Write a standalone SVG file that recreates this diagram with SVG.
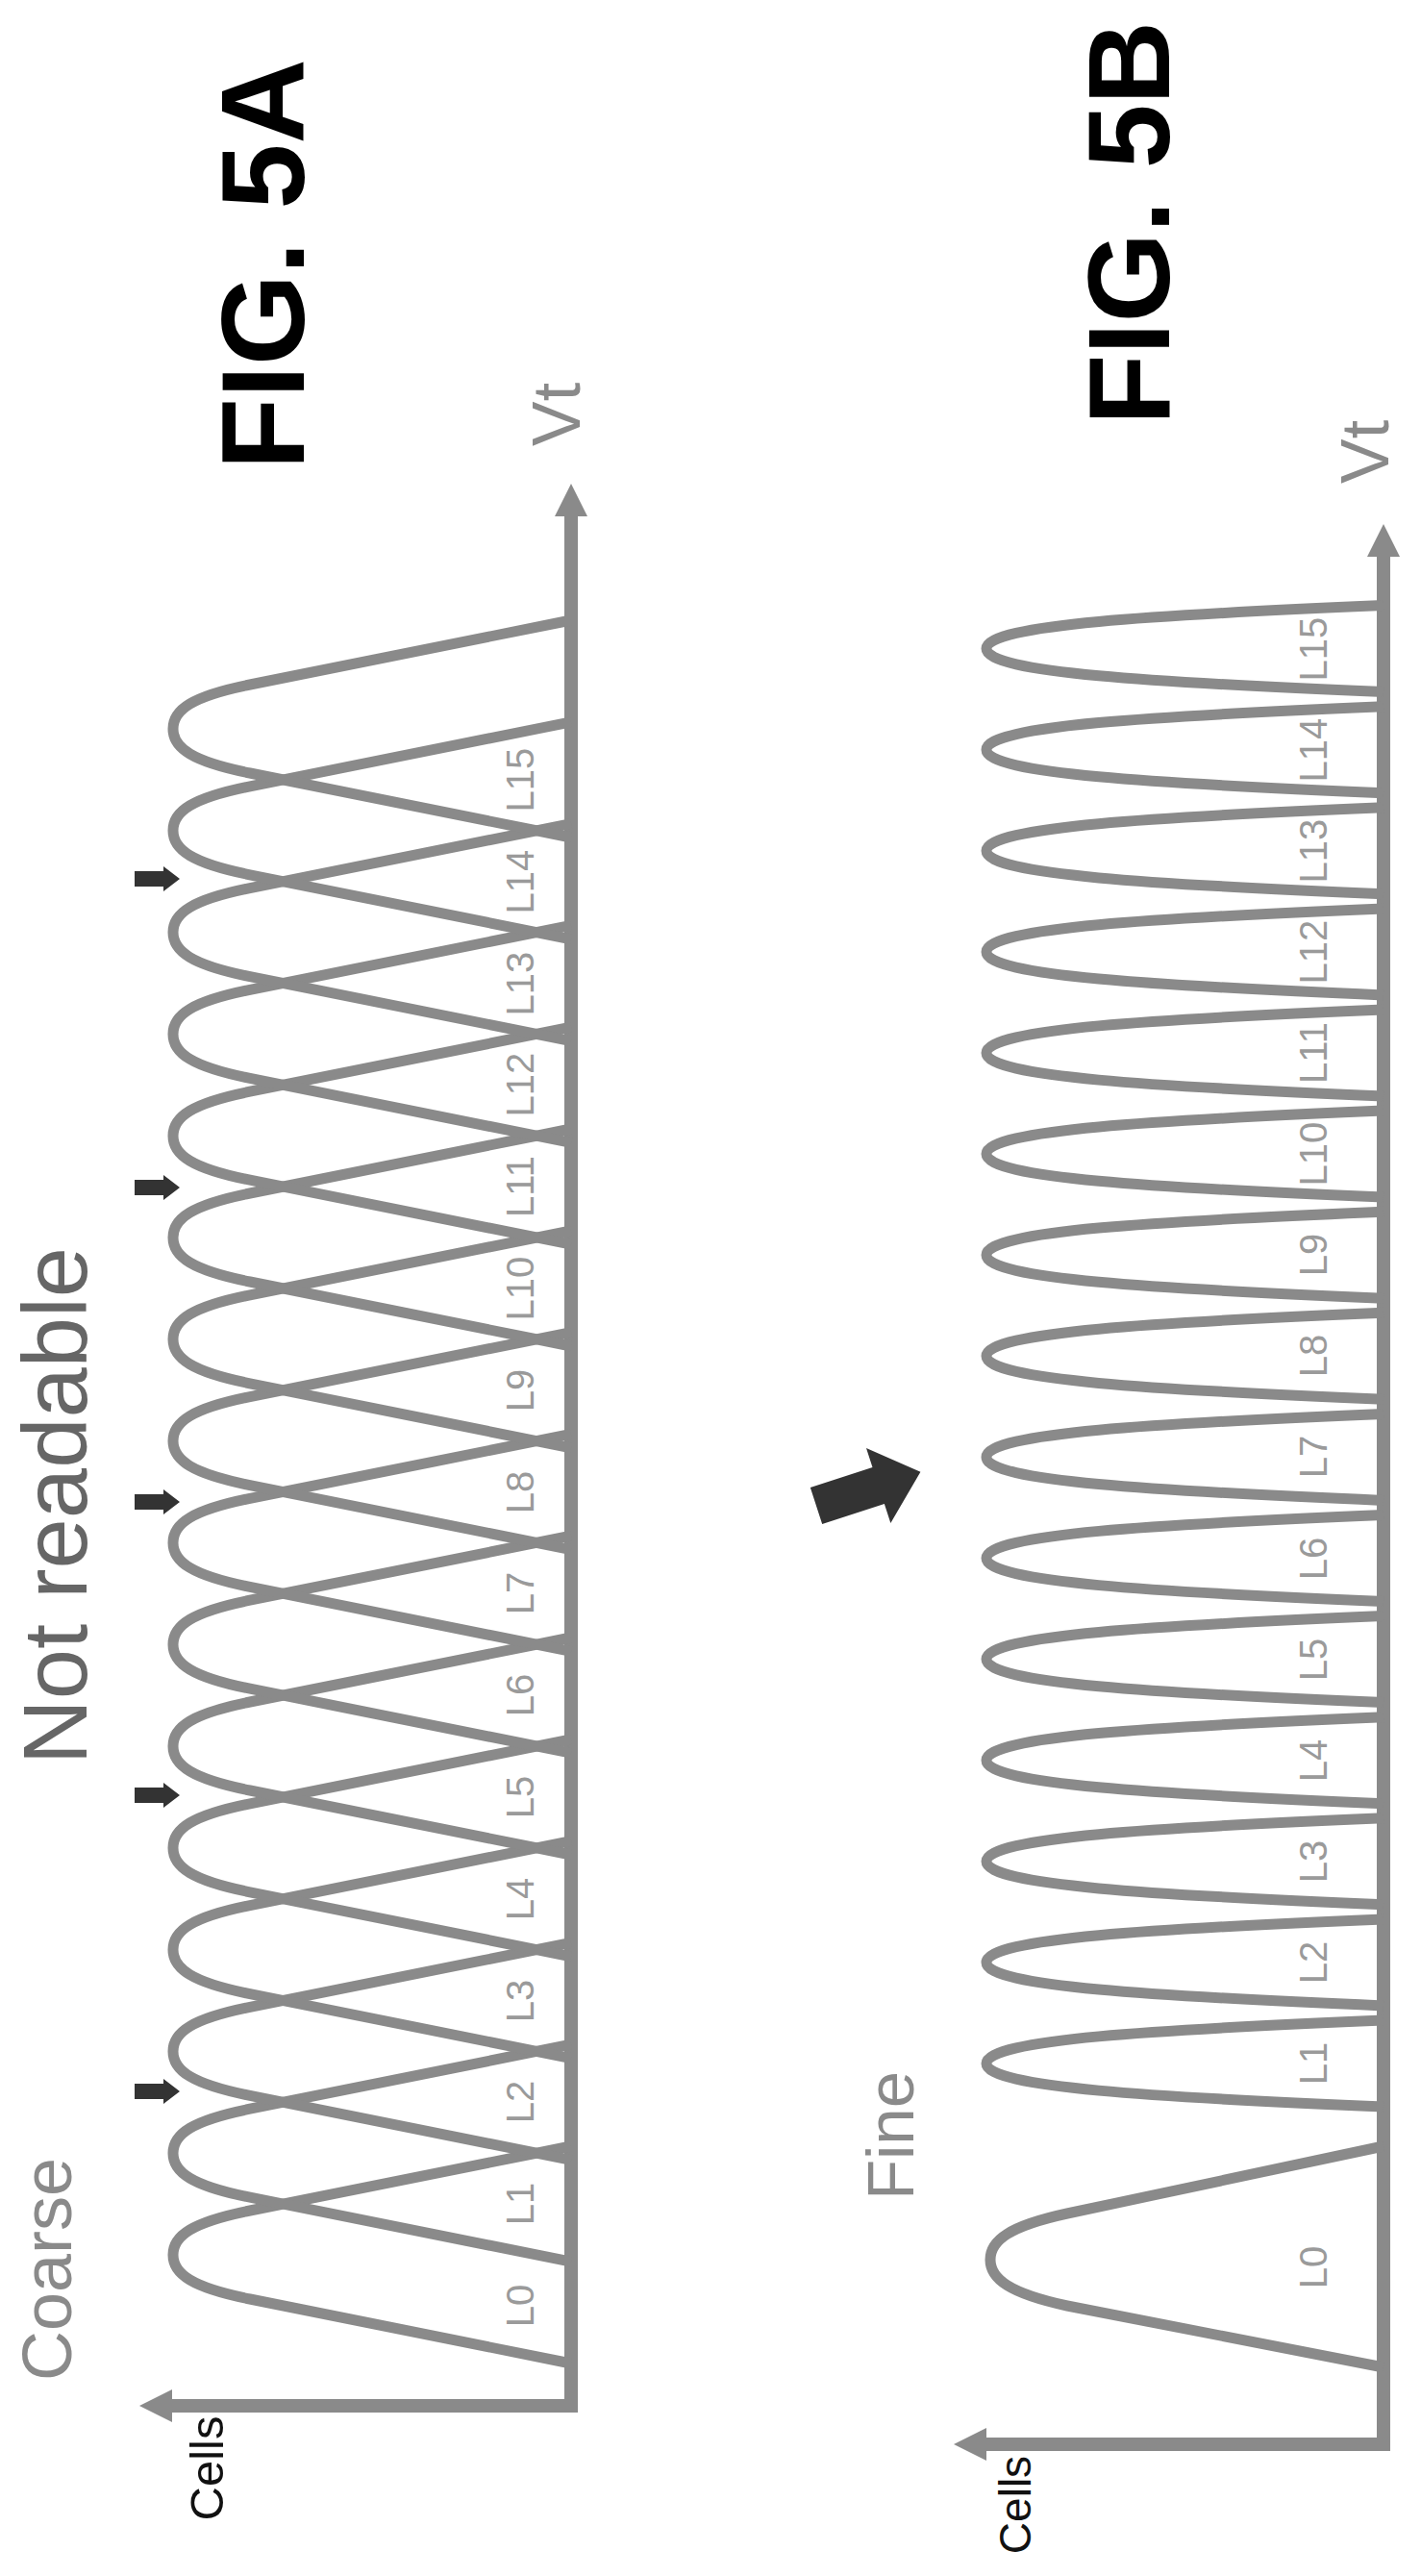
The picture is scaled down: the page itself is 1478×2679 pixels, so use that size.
<svg xmlns="http://www.w3.org/2000/svg" xmlns:xlink="http://www.w3.org/1999/xlink" width="1478" height="2679" viewBox="0 0 1478 2679">
<style>
.curve{fill:none;stroke:#8a8a8a;stroke-width:11;stroke-linejoin:round}
.axis{fill:none;stroke:#8a8a8a;stroke-width:14}
.head{fill:#8a8a8a}
.lbl{font-family:"Liberation Sans",Arial,sans-serif;font-size:40px;fill:#9a9a9a;text-anchor:middle}
.fig{font-family:"Liberation Sans",Arial,sans-serif;font-weight:bold;fill:#000;text-anchor:middle}
.gray{font-family:"Liberation Sans",Arial,sans-serif;fill:#8a8a8a;text-anchor:middle}
.blk{font-family:"Liberation Sans",Arial,sans-serif;fill:#111;text-anchor:middle}
.sarrow{fill:#333}
</style>
<defs>
<path id="c5a" d="M594,113 L260,46 C200,34 180,20 180,0 C180,-20 200,-34 260,-46 L594,-113"/>
<path id="c5b" d="M1439,45 C1200,35 1026,25 1026,0 C1026,-25 1200,-35 1439,-45"/>
<path id="sa" d="M140,-8 L170,-8 L170,-13 L187,0 L170,13 L170,8 L140,8 Z"/>
</defs>

<g id="fig5a">
<text class="fig" font-size="122" transform="translate(316,275) rotate(-90)">FIG. 5A</text>
<text class="gray" font-size="70" transform="translate(603,431) rotate(-90)">Vt</text>
<text class="gray" font-size="72" transform="translate(74,2360) rotate(-90)">Coarse</text>
<text font-family="Liberation Sans, Arial, sans-serif" fill="#666" text-anchor="middle" font-size="94" transform="translate(90,1566) rotate(-90)">Not readable</text>
<text class="blk" font-size="49" transform="translate(232,2567) rotate(-90)">Cells</text>
<g id="axes5a">
<path class="axis" d="M594,2509 V530 M600,2502 H172"/>
<polygon class="head" points="594,503 611,537 577,537"/>
<polygon class="head" points="145,2502 179,2485 179,2519"/>
</g>
<g id="curves5a" class="curve">
<use href="#c5a" y="2345"/><use href="#c5a" y="2239.2"/><use href="#c5a" y="2133.4"/><use href="#c5a" y="2027.6"/>
<use href="#c5a" y="1921.8"/><use href="#c5a" y="1816"/><use href="#c5a" y="1710.2"/><use href="#c5a" y="1604.4"/>
<use href="#c5a" y="1498.6"/><use href="#c5a" y="1392.8"/><use href="#c5a" y="1287"/><use href="#c5a" y="1181.2"/>
<use href="#c5a" y="1075.4"/><use href="#c5a" y="969.6"/><use href="#c5a" y="863.8"/><use href="#c5a" y="758"/>
</g>
<g id="labels5a">
<text class="lbl" transform="translate(555,2398) rotate(-90)">L0</text>
<text class="lbl" transform="translate(555,2292) rotate(-90)">L1</text>
<text class="lbl" transform="translate(555,2186) rotate(-90)">L2</text>
<text class="lbl" transform="translate(555,2081) rotate(-90)">L3</text>
<text class="lbl" transform="translate(555,1975) rotate(-90)">L4</text>
<text class="lbl" transform="translate(555,1869) rotate(-90)">L5</text>
<text class="lbl" transform="translate(555,1763) rotate(-90)">L6</text>
<text class="lbl" transform="translate(555,1657) rotate(-90)">L7</text>
<text class="lbl" transform="translate(555,1552) rotate(-90)">L8</text>
<text class="lbl" transform="translate(555,1446) rotate(-90)">L9</text>
<text class="lbl" transform="translate(555,1340) rotate(-90)">L10</text>
<text class="lbl" transform="translate(555,1234) rotate(-90)">L11</text>
<text class="lbl" transform="translate(555,1128) rotate(-90)">L12</text>
<text class="lbl" transform="translate(555,1023) rotate(-90)">L13</text>
<text class="lbl" transform="translate(555,917) rotate(-90)">L14</text>
<text class="lbl" transform="translate(555,811) rotate(-90)">L15</text>
</g>
<g id="markers5a" class="sarrow">
<use href="#sa" y="2175"/><use href="#sa" y="1867"/><use href="#sa" y="1562"/><use href="#sa" y="1235"/><use href="#sa" y="914"/>
</g>
</g>

<g id="transition">
<path fill="#333" transform="translate(849,1566) rotate(-18)" d="M0,-20 L68,-20 L68,-41 L114,0 L68,41 L68,20 L0,20 Z"/>
</g>

<g id="fig5b">
<text class="fig" font-size="120" transform="translate(1216,232) rotate(-90)">FIG. 5B</text>
<text class="gray" font-size="70" transform="translate(1444,470) rotate(-90)">Vt</text>
<text class="gray" font-size="69" transform="translate(950,2221) rotate(-90)">Fine</text>
<text class="blk" font-size="46" transform="translate(1072,2605) rotate(-90)">Cells</text>
<g id="axes5b">
<path class="axis" d="M1439,2549 V572 M1446,2542 H1019"/>
<polygon class="head" points="1439,545 1456,579 1422,579"/>
<polygon class="head" points="992,2542 1026,2525 1026,2559"/>
</g>
<g id="curves5b" class="curve">
<path d="M1439,2462 L1110,2398 C1050,2385 1030,2370 1030,2350 C1030,2330 1050,2315 1110,2302 L1439,2232"/>
<use href="#c5b" y="2146"/><use href="#c5b" y="2040.9"/><use href="#c5b" y="1935.8"/><use href="#c5b" y="1830.7"/>
<use href="#c5b" y="1725.6"/><use href="#c5b" y="1620.5"/><use href="#c5b" y="1515.4"/><use href="#c5b" y="1410.3"/>
<use href="#c5b" y="1305.2"/><use href="#c5b" y="1200.1"/><use href="#c5b" y="1095"/><use href="#c5b" y="989.9"/>
<use href="#c5b" y="884.8"/><use href="#c5b" y="779.7"/><use href="#c5b" y="674.6"/>
</g>
<g id="labels5b">
<text class="lbl" transform="translate(1380,2358) rotate(-90)">L0</text>
<text class="lbl" transform="translate(1380,2146) rotate(-90)">L1</text>
<text class="lbl" transform="translate(1380,2041) rotate(-90)">L2</text>
<text class="lbl" transform="translate(1380,1936) rotate(-90)">L3</text>
<text class="lbl" transform="translate(1380,1831) rotate(-90)">L4</text>
<text class="lbl" transform="translate(1380,1726) rotate(-90)">L5</text>
<text class="lbl" transform="translate(1380,1621) rotate(-90)">L6</text>
<text class="lbl" transform="translate(1380,1515) rotate(-90)">L7</text>
<text class="lbl" transform="translate(1380,1410) rotate(-90)">L8</text>
<text class="lbl" transform="translate(1380,1305) rotate(-90)">L9</text>
<text class="lbl" transform="translate(1380,1200) rotate(-90)">L10</text>
<text class="lbl" transform="translate(1380,1095) rotate(-90)">L11</text>
<text class="lbl" transform="translate(1380,990) rotate(-90)">L12</text>
<text class="lbl" transform="translate(1380,885) rotate(-90)">L13</text>
<text class="lbl" transform="translate(1380,780) rotate(-90)">L14</text>
<text class="lbl" transform="translate(1380,675) rotate(-90)">L15</text>
</g>
</g>
</svg>
